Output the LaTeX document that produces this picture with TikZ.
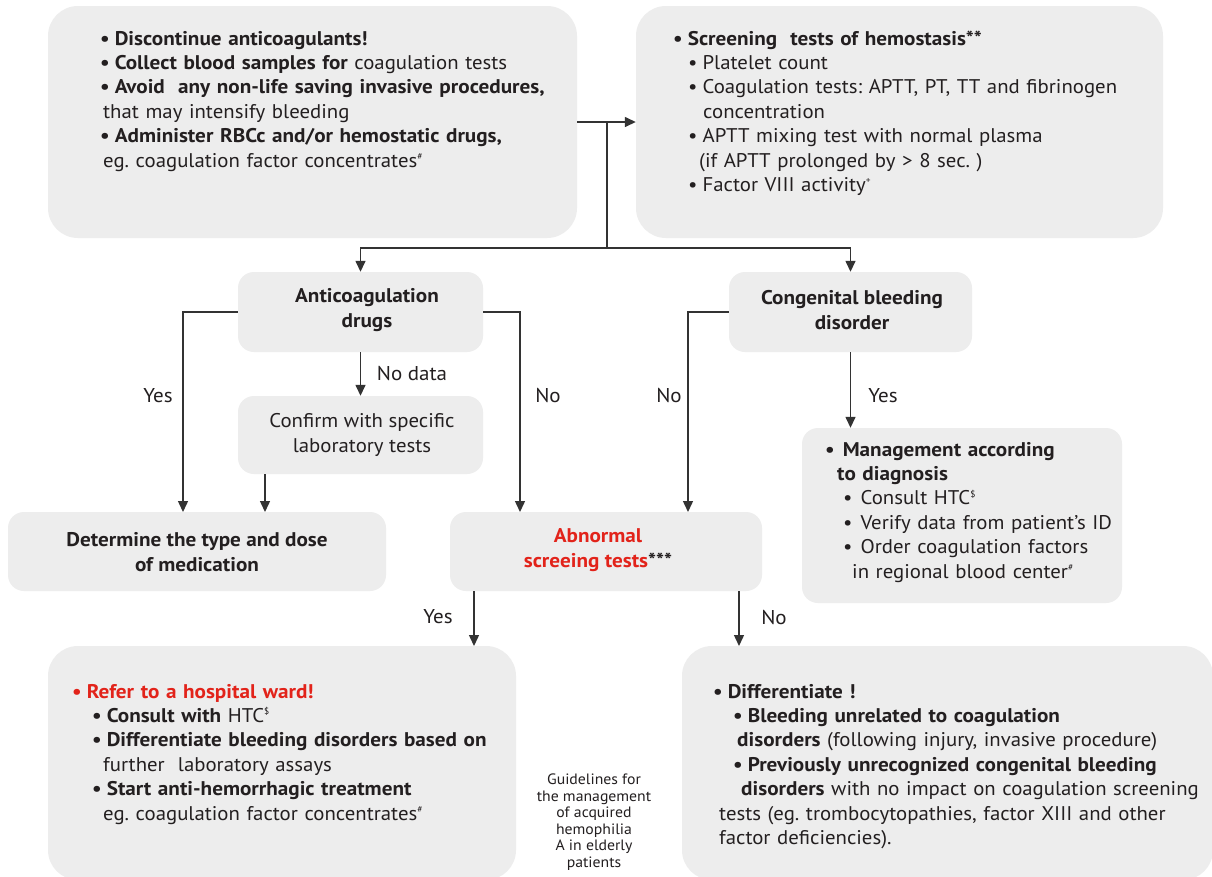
\documentclass[tikz,border=0pt]{standalone}
\usepackage{fontspec}
\setmainfont{PT Sans}[FakeStretch=1.05, BoldFeatures={FakeStretch=1.07}]
\usetikzlibrary{arrows.meta}
\definecolor{boxfill}{HTML}{EDEDED}
\definecolor{ink}{HTML}{231F20}
\definecolor{redt}{HTML}{E2231A}
\definecolor{linec}{HTML}{333333}
\newcommand{\sps}[1]{\textsuperscript{\fontsize{9}{9}\selectfont #1}}
\newcommand{\bu}{•\hspace{5pt}}
\frenchspacing
\begin{document}
\begin{tikzpicture}[x=1pt,y=-1pt,
  bigbox/.style={fill=boxfill, draw=none, rounded corners=30pt, inner sep=0pt},
  smallbox/.style={fill=boxfill, draw=none, rounded corners=16pt, inner sep=0pt},
  txt/.style={text=ink, inner sep=0pt, font=\fontsize{19.8}{24.4}\selectfont},
  ltxt/.style={txt, anchor=base west, text width=560pt, align=left},
  ctxt/.style={txt, align=center},
  btxt/.style={ctxt, font=\bfseries\fontsize{19.8}{24.4}\selectfont},
  lbl/.style={text=ink, inner sep=0pt, font=\fontsize{20}{24}\selectfont},
  wire/.style={draw=linec, line width=1.4pt},
  arr/.style={wire, -{Triangle[length=11pt,width=10pt]}}]
\useasboundingbox (0,0) rectangle (1212,876);
\fill[white] (0,0) rectangle (1212,876);
\clip (0,0) rectangle (1212,876);

% boxes
\node[bigbox, minimum width=529pt, minimum height=232pt] (A) at (312.5,122) {};
\node[bigbox, minimum width=527pt, minimum height=232pt] (B) at (899.5,122) {};
\node[smallbox, minimum width=245pt, minimum height=80pt] (C) at (360.5,312) {};
\node[smallbox, minimum width=243pt, minimum height=80pt] (D) at (850.5,312) {};
\node[smallbox, minimum width=245pt, minimum height=78pt] (E) at (360.5,435) {};
\node[smallbox, minimum width=378pt, minimum height=79pt] (F) at (197,551.5) {};
\node[smallbox, minimum width=312pt, minimum height=79pt] (G) at (606,551.5) {};
\node[smallbox, minimum width=320pt, minimum height=175pt] (H) at (962,515.5) {};
\node[bigbox, minimum width=468pt, minimum height=234pt] (I) at (282,763) {};
\node[bigbox, minimum width=531pt, minimum height=234pt] (J) at (947.5,763) {};

% texts
\node[ltxt] (tA) at (100,45) {%
\textbf{\bu Discontinue anticoagulants!}\\
\textbf{\bu Collect blood samples for} coagulation tests\\
\textbf{\bu Avoid\ \ any non-life saving invasive procedures,}\\
\hspace*{3pt}that may intensify bleeding\\
\textbf{\bu Administer RBCc and/or hemostatic drugs,}\\
\hspace*{3pt}eg. coagulation factor concentrates\sps{\#}};

\node[ltxt] (tB) at (673,45) {%
\textbf{\bu Screening\ \ tests of hemostasis**}\\
\hspace*{15pt}\bu Platelet count\\
\hspace*{15pt}\bu Coagulation tests: APTT, PT, TT and fibrinogen\\
\hspace*{30pt}concentration\\
\hspace*{15pt}\bu APTT mixing test with normal plasma\\
\hspace*{26pt}(if APTT prolonged by > 8 sec. )\\
\hspace*{15pt}\bu Factor VIII activity\sps{+}};

\node[btxt] (tC) at (367,310) {Anticoagulation\\drugs};
\node[btxt] (tD) at (852,310) {Congenital bleeding\\disorder};
\node[ctxt] (tE) at (362,435) {Confirm with specific\\laboratory tests};
\node[btxt] (tF) at (197,552) {Determine the type and dose\\of medication};
\node[btxt] (tG) at (598,550) {\textcolor{redt}{Abnormal}\\\textcolor{redt}{screeing tests}***};

\node[ltxt] (tH) at (825,456) {%
\textbf{•\hspace{8pt}Management according}\\
\hspace*{12pt}\textbf{to diagnosis}\\
\hspace*{18pt}•\hspace{8pt}Consult HTC\sps{\$}\\
\hspace*{18pt}•\hspace{8pt}Verify data from patient’s ID\\
\hspace*{18pt}•\hspace{8pt}Order coagulation factors\\
\hspace*{27pt}in regional blood center\sps{\#}};

\node[ltxt] (tI) at (72,698) {%
\textcolor{redt}{\textbf{\bu Refer to a hospital ward!}}\\
\hspace*{20pt}\textbf{\bu Consult with} HTC\sps{\$}\\
\hspace*{20pt}\textbf{\bu Differentiate bleeding disorders based on}\\
\hspace*{31pt}further\ \ laboratory assays\\
\hspace*{20pt}\textbf{\bu Start anti-hemorrhagic treatment}\\
\hspace*{31pt}eg. coagulation factor concentrates\sps{\#}};

\node[ltxt] (tJ) at (713,698) {%
\textbf{\bu Differentiate !}\\
\hspace*{20pt}\textbf{\bu Bleeding unrelated to coagulation}\\
\hspace*{24pt}\textbf{disorders} (following injury, invasive procedure)\\
\hspace*{20pt}\textbf{\bu Previously unrecognized congenital bleeding}\\
\hspace*{28pt}\textbf{disorders} with no impact on coagulation screening\\
\hspace*{6pt}tests (eg. trombocytopathies, factor XIII and other\\
\hspace*{6pt}factor deficiencies).};

\node[text=ink, inner sep=0pt, align=center, font=\fontsize{15}{16.5}\selectfont] (cap) at (594,822)
{Guidelines for\\the management\\of acquired\\hemophilia\\A in elderly\\patients};

% connectors
\coordinate (j1) at (607,122);
\coordinate (j2) at (607,248);
\coordinate (fy) at (183,512);
\coordinate (fe) at (265,512);
\coordinate (gn1) at (520,512);
\coordinate (gn2) at (688,512);
\coordinate (iy) at (474,646);
\coordinate (jn) at (739,646);

\draw[arr] (A.east) -- (B.west);
\draw[wire] (j1) -- (j2);
\draw[arr] (j2) -| (C.north);
\draw[arr] (j2) -| (D.north);
\draw[arr] (C.west) -| (fy);
\draw[arr] (C.south) -- (E.north);
\draw[arr] (fe |- E.south) -- (fe);
\draw[arr] (C.east) -| (gn1);
\draw[arr] (D.west) -| (gn2);
\draw[arr] (D.south) -- (D.south |- H.north);
\draw[arr] (iy |- G.south) -- (iy);
\draw[arr] (jn |- G.south) -- (jn);

% labels
\node[lbl] (l1) at (158,396) {Yes};
\node[lbl] (l2) at (412,374) {No data};
\node[lbl] (l3) at (548,396) {No};
\node[lbl] (l4) at (669,396) {No};
\node[lbl] (l5) at (883,396) {Yes};
\node[lbl] (l6) at (438,617) {Yes};
\node[lbl] (l7) at (774,617) {No};
\end{tikzpicture}
\end{document}
